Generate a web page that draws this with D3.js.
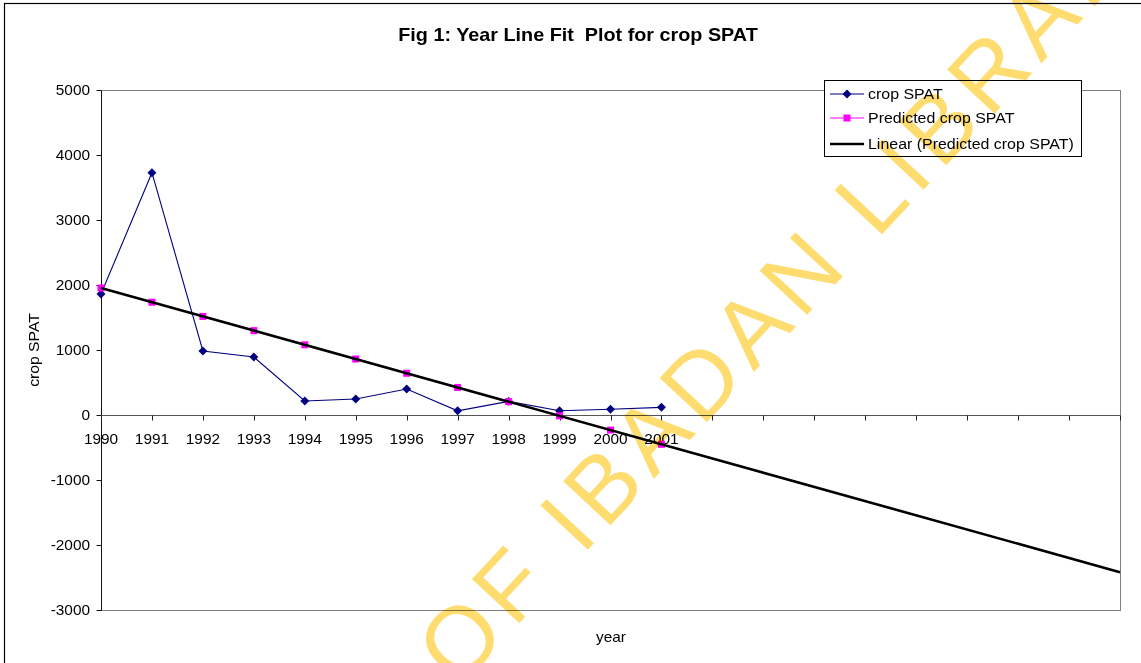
<!DOCTYPE html>
<html>
<head>
<meta charset="utf-8">
<script src="https://cdn.jsdelivr.net/npm/d3@7"></script>
<style>
  html, body { margin: 0; padding: 0; background: #fff; }
  svg { display: block; }
  text { font-family: "Liberation Sans", Arial, sans-serif; }
</style>
</head>
<body>
<svg id="chart" width="1141" height="663"></svg>
<script>
// ---- data ----
const categories = ["1990","1991","1992","1993","1994","1995","1996","1997","1998","1999","2000","2001"];
const cropSPAT = [1861, 3728, 985, 892, 215, 246, 400, 64, 210, 66, 88, 118];
const predictedSPAT = [1954, 1735, 1517, 1298, 1080, 861, 642, 424, 205, -13, -232, -451];
const yTicks = [-3000, -2000, -1000, 0, 1000, 2000, 3000, 4000, 5000];
const forecastPeriods = 9;
const seriesNames = ["crop SPAT", "Predicted crop SPAT", "Linear (Predicted crop SPAT)"];
const titleText = "Fig 1: Year Line Fit  Plot for crop SPAT";
const xTitle = "year";
const yTitle = "crop SPAT";
const watermarkText = "UNIVERSITY OF IBADAN LIBRARY";

// ---- layout ----
const W = 1141, H = 663;
const plot = { left: 101, right: 1120, top: 90, bottom: 610 };
const sx = 1.1; // horizontal stretch of the original text rendering

const svg = d3.select("#chart");
svg.append("rect").attr("width", W).attr("height", H).attr("fill", "#fff");

// outer chart border (only top/left visible in the crop)
svg.append("rect")
  .attr("x", 4.5).attr("y", 3.5).attr("width", W + 20).attr("height", H + 20)
  .attr("fill", "none").attr("stroke", "#000").attr("stroke-width", 1.2);

const nCats = categories.length + forecastPeriods; // 21 category slots
const x = d3.scaleLinear().domain([0, nCats - 1]).range([plot.left, plot.right]);
const y = d3.scaleLinear().domain([-3000, 5000]).range([plot.bottom, plot.top]);

function stext(g, tx, ty, str, anchor, size, weight) {
  return g.append("text")
    .attr("transform", `translate(${tx},${ty}) scale(${sx},1)`)
    .attr("text-anchor", anchor)
    .attr("font-size", size)
    .attr("font-weight", weight || "normal")
    .attr("fill", "#000")
    .style("white-space", "pre")
    .text(str);
}

// plot area border
svg.append("rect")
  .attr("x", plot.left + 0.5).attr("y", plot.top + 0.5)
  .attr("width", plot.right - plot.left).attr("height", plot.bottom - plot.top)
  .attr("fill", "none").attr("stroke", "#808080").attr("stroke-width", 1);

// Y axis
const yAxis = svg.append("g").attr("transform", `translate(${plot.left + 0.5},0.5)`);
yAxis.append("line").attr("y1", plot.top).attr("y2", plot.bottom)
  .attr("stroke", "#111").attr("stroke-width", 1);
yAxis.selectAll("line.tick").data(yTicks).enter().append("line")
  .attr("class", "tick")
  .attr("x1", -5).attr("x2", 0)
  .attr("y1", d => Math.round(y(d))).attr("y2", d => Math.round(y(d)))
  .attr("stroke", "#111");
yTicks.forEach(d => stext(svg, 90, Math.round(y(d)) + 5, String(d), "end", 14));

// X axis at zero
const x0 = Math.round(y(0)) + 0.5;
svg.append("line").attr("x1", plot.left).attr("x2", plot.right)
  .attr("y1", x0).attr("y2", x0).attr("stroke", "#555").attr("stroke-width", 1);
const idx = d3.range(nCats);
svg.selectAll("line.xtick").data(idx).enter().append("line")
  .attr("class", "xtick")
  .attr("x1", d => Math.round(x(d)) + 0.5).attr("x2", d => Math.round(x(d)) + 0.5)
  .attr("y1", x0).attr("y2", x0 + 5)
  .attr("stroke", "#222");
categories.forEach((c, i) => stext(svg, x(i), x0 + 28, c, "middle", 14));

// axis titles
stext(svg, 611, 642, xTitle, "middle", 14);
svg.append("text")
  .attr("transform", `translate(39,${(plot.top + plot.bottom) / 2}) rotate(-90) scale(1.05,1)`)
  .attr("text-anchor", "middle").attr("font-size", 15).attr("fill", "#000")
  .text(yTitle);

// title
stext(svg, 578, 41, titleText, "middle", 18, "bold");

// ---- series ----
const line = d3.line().x((d, i) => x(i)).y(d => y(d));
const diamond = d3.symbol().type(d3.symbolSquare).size(40);

// crop SPAT line + diamond markers
svg.append("path").datum(cropSPAT).attr("d", line)
  .attr("fill", "none").attr("stroke", "#000080").attr("stroke-width", 1.1);
svg.selectAll("path.dia").data(cropSPAT).enter().append("path")
  .attr("class", "dia")
  .attr("d", diamond)
  .attr("transform", (d, i) => `translate(${x(i)},${y(d)}) rotate(45)`)
  .attr("fill", "#000080");

// predicted markers (squares)
svg.selectAll("rect.pred").data(predictedSPAT).enter().append("rect")
  .attr("class", "pred")
  .attr("x", (d, i) => x(i) - 3.5).attr("y", d => y(d) - 3.5)
  .attr("width", 7).attr("height", 7)
  .attr("fill", "#FF00FF");

// linear trendline of predicted, forecast forward
const xs = predictedSPAT.map((d, i) => i);
const mx = d3.mean(xs), my = d3.mean(predictedSPAT);
const slope = d3.sum(xs.map((xi, i) => (xi - mx) * (predictedSPAT[i] - my))) /
              d3.sum(xs.map(xi => (xi - mx) * (xi - mx)));
const intercept = my - slope * mx;
const trendEnds = [0, nCats - 1];
svg.append("line")
  .attr("x1", x(trendEnds[0])).attr("y1", y(intercept + slope * trendEnds[0]))
  .attr("x2", x(trendEnds[1])).attr("y2", y(intercept + slope * trendEnds[1]))
  .attr("stroke", "#000").attr("stroke-width", 2.6);

// ---- legend ----
const lg = svg.append("g");
lg.append("rect").attr("x", 824.5).attr("y", 80.5).attr("width", 257).attr("height", 76)
  .attr("fill", "#fff").attr("stroke", "#000").attr("stroke-width", 1);
const rowsY = [94, 118, 144];
// row 1
lg.append("line").attr("x1", 830).attr("x2", 864).attr("y1", rowsY[0]).attr("y2", rowsY[0])
  .attr("stroke", "#000080").attr("stroke-width", 1.1);
lg.append("path").attr("d", diamond)
  .attr("transform", `translate(847,${rowsY[0]}) rotate(45)`).attr("fill", "#000080");
// row 2
lg.append("line").attr("x1", 830).attr("x2", 864).attr("y1", rowsY[1]).attr("y2", rowsY[1])
  .attr("stroke", "#FF00FF").attr("stroke-width", 1.1);
lg.append("rect").attr("x", 843.5).attr("y", rowsY[1] - 3.5).attr("width", 7).attr("height", 7)
  .attr("fill", "#FF00FF");
// row 3
lg.append("line").attr("x1", 830).attr("x2", 864).attr("y1", rowsY[2]).attr("y2", rowsY[2])
  .attr("stroke", "#000").attr("stroke-width", 2.6);
seriesNames.forEach((s, i) => stext(lg, 868, rowsY[i] + 5, s, "start", 14.5));

// ---- watermark ----
const wm = svg.append("g").attr("transform", "translate(582,556) rotate(-47)")
  .style("mix-blend-mode", "multiply");
const wt = wm.append("text")
  .attr("font-family", "DejaVu Sans")
  .attr("font-size", 94)
  .attr("letter-spacing", 8)
  .attr("fill", "#FFDC70")
  .text(watermarkText);
const pre = wt.node().getSubStringLength(0, 14);
wt.attr("x", -pre);
</script>
</body>
</html>
